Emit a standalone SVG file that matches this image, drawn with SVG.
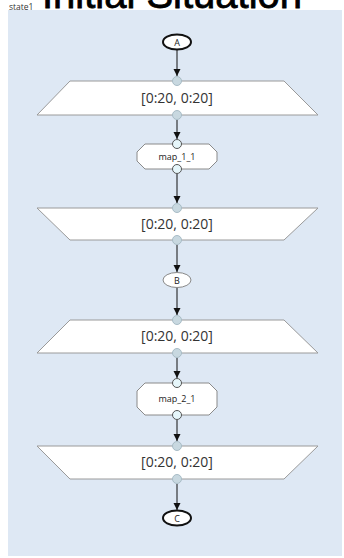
<svg xmlns="http://www.w3.org/2000/svg" width="344" height="558" viewBox="0 0 344 558">
<defs>
<marker id="arr" markerWidth="8" markerHeight="8" refX="7" refY="4" orient="auto" markerUnits="userSpaceOnUse">
<path d="M0,0.5 L7,4 L0,7.5 Z" fill="#111"/>
</marker>
<style>
.bg{fill:#dee8f4;}
.trap{fill:#fff;stroke:#9a9a9a;stroke-width:1;}
.oct{fill:#fff;stroke:#8a8a8a;stroke-width:1;}
.term{fill:#fff;stroke:#111;stroke-width:2;}
.mid{fill:#fff;stroke:#888;stroke-width:1;}
.port{fill:#c8d8e0;stroke:#a8bcc6;stroke-width:1;}
.port2{fill:#e6f6fa;stroke:#555;stroke-width:1;}
.lbl{font-family:"Open Sans","Liberation Sans",sans-serif;font-size:14px;fill:#333;text-anchor:middle;}
.sm{font-family:"Open Sans","Liberation Sans",sans-serif;font-size:9px;fill:#222;text-anchor:middle;}
.edge{stroke:#111;stroke-width:1;fill:none;marker-end:url(#arr);}
</style>
</defs>
<rect class="bg" x="8" y="10" width="334" height="546"/>
<text x="172" y="8" font-family="'Liberation Sans',sans-serif" font-size="40" fill="#000" stroke="#000" stroke-width="0.8" text-anchor="middle">Initial Situation</text>
<text x="9" y="10" font-family="'Open Sans','Liberation Sans',sans-serif" font-size="8.5" fill="#333">state1</text>
<g id="connectors">
<line class="edge" x1="177" y1="50" x2="177" y2="76"/>
<line class="edge" x1="177" y1="120" x2="177" y2="139"/>
<line class="edge" x1="177" y1="174" x2="177" y2="203"/>
<line class="edge" x1="177" y1="245" x2="177" y2="272"/>
<line class="edge" x1="177" y1="288" x2="177" y2="315"/>
<line class="edge" x1="177" y1="358" x2="177" y2="378"/>
<line class="edge" x1="177" y1="420" x2="177" y2="441"/>
<line class="edge" x1="177" y1="484" x2="177" y2="510"/>
</g>
<g id="A">
<ellipse class="term" cx="177" cy="42" rx="14" ry="7.5"/>
<text class="sm" x="177" y="45.5">A</text>
</g>
<g id="slice1">
<polygon class="trap" points="70,81 284,81 318,115 37,115"/>
<text class="lbl" x="177" y="103">[0:20, 0:20]</text>
<circle class="port" cx="177" cy="81" r="4.5"/>
<circle class="port" cx="177" cy="115" r="4.5"/>
</g>
<g id="map_1_1">
<polygon class="oct" points="145,144 209,144 217,152 217,161 209,169 145,169 137,161 137,152"/>
<text class="sm" x="177" y="160">map_1_1</text>
<circle class="port2" cx="177" cy="144" r="4.5"/>
<circle class="port2" cx="177" cy="169" r="4.5"/>
</g>
<g id="slice2">
<polygon class="trap" points="37,208 318,208 284,240 70,240"/>
<text class="lbl" x="177" y="229">[0:20, 0:20]</text>
<circle class="port" cx="177" cy="208" r="4.5"/>
<circle class="port" cx="177" cy="240" r="4.5"/>
</g>
<g id="B">
<ellipse class="mid" cx="177" cy="280" rx="14" ry="7.5"/>
<text class="sm" x="177" y="283.5">B</text>
</g>
<g id="slice3">
<polygon class="trap" points="70,320 284,320 318,353 37,353"/>
<text class="lbl" x="177" y="341">[0:20, 0:20]</text>
<circle class="port" cx="177" cy="320" r="4.5"/>
<circle class="port" cx="177" cy="353" r="4.5"/>
</g>
<g id="map_2_1">
<polygon class="oct" points="145,383 209,383 217,391 217,407 209,415 145,415 137,407 137,391"/>
<text class="sm" x="177" y="402">map_2_1</text>
<circle class="port2" cx="177" cy="383" r="4.5"/>
<circle class="port2" cx="177" cy="415" r="4.5"/>
</g>
<g id="slice4">
<polygon class="trap" points="37,446 318,446 284,479 70,479"/>
<text class="lbl" x="177" y="467">[0:20, 0:20]</text>
<circle class="port" cx="177" cy="446" r="4.5"/>
<circle class="port" cx="177" cy="479" r="4.5"/>
</g>
<g id="C">
<ellipse class="term" cx="177" cy="518" rx="14" ry="7.5"/>
<text class="sm" x="177" y="521.5">C</text>
</g>
</svg>
